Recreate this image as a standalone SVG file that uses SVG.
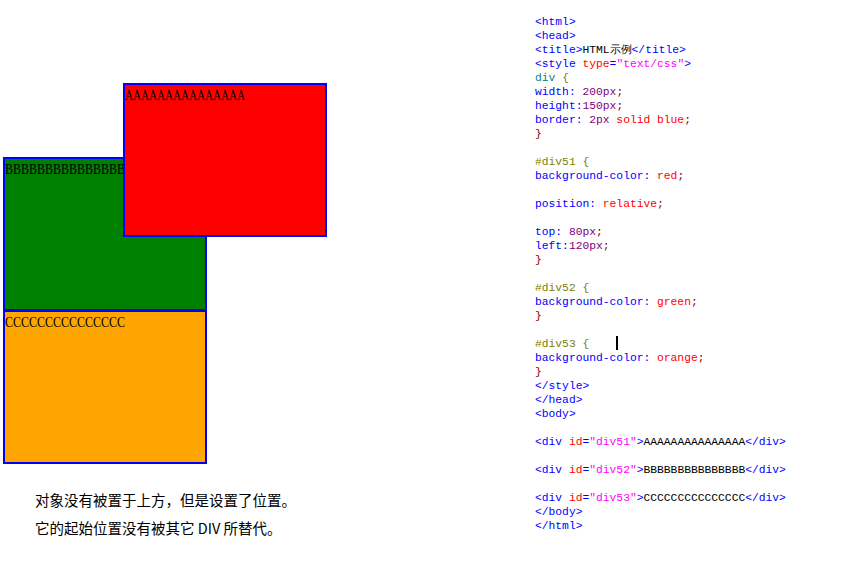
<svg xmlns="http://www.w3.org/2000/svg" width="842" height="577" viewBox="0 0 842 577">
<style>
.box{stroke:#0000ff;stroke-width:2}
.lbl{font-family:"Liberation Serif",serif;font-size:15px;fill:#000}
.code{font-family:"Liberation Mono",monospace;font-size:11.3px}
.t{fill:#0000ff}.an{fill:#ff0000}.av{fill:#ff00ff}.sel{fill:#008080}.id{fill:#808000}
.p{fill:#0000ff}.n{fill:#800080}.k{fill:#ff0000}.b{fill:#800000}.x{fill:#000}
.cn{font-family:"Noto Sans CJK SC",sans-serif;font-size:14.5px;fill:#000}
</style>
<rect width="842" height="577" fill="#fff"/>
<g id="div52"><rect class="box" x="4" y="158" width="202" height="152" fill="#008000"/><text class="lbl" x="5" y="174" textLength="120" lengthAdjust="spacingAndGlyphs">BBBBBBBBBBBBBBB</text></g>
<g id="div53"><rect class="box" x="4" y="311" width="202" height="152" fill="#ffa500"/><text class="lbl" x="5" y="327" textLength="120" lengthAdjust="spacingAndGlyphs">CCCCCCCCCCCCCCC</text></g>
<g id="div51"><rect class="box" x="124" y="84" width="202" height="152" fill="#ff0000"/><text class="lbl" x="125" y="100" textLength="120" lengthAdjust="spacingAndGlyphs">AAAAAAAAAAAAAAA</text></g>
<g id="caption">
<text class="cn" x="35" y="506">对象没有被置于上方，但是设置了位置。</text>
<text class="cn" x="35" y="534">它的起始位置没有被其它 DIV 所替代。</text>
</g>
<g id="code" class="code" xml:space="preserve">
<text x="535" y="25"><tspan class="t">&lt;html&gt;</tspan></text>
<text x="535" y="39"><tspan class="t"> &lt;head&gt;</tspan></text>
<text x="535" y="53"><tspan class="t">  &lt;title&gt;</tspan><tspan class="x">HTML示例</tspan><tspan class="t">&lt;/title&gt;</tspan></text>
<text x="535" y="67"><tspan class="t">  &lt;style </tspan><tspan class="an">type</tspan><tspan class="t">=</tspan><tspan class="av">"text/css"</tspan><tspan class="t">&gt;</tspan></text>
<text x="535" y="81"><tspan class="sel">    div </tspan><tspan class="id">{</tspan></text>
<text x="535" y="95"><tspan class="p">        width: </tspan><tspan class="n">200px</tspan><tspan class="b">;</tspan></text>
<text x="535" y="109"><tspan class="p">        height:</tspan><tspan class="n">150px</tspan><tspan class="b">;</tspan></text>
<text x="535" y="123"><tspan class="p">        border: </tspan><tspan class="n">2px </tspan><tspan class="k">solid blue</tspan><tspan class="b">;</tspan></text>
<text x="535" y="137"><tspan class="b">    }</tspan></text>
<text x="535" y="165"><tspan class="id">    #div51 {</tspan></text>
<text x="535" y="179"><tspan class="p">        background-color: </tspan><tspan class="k">red</tspan><tspan class="b">;</tspan></text>
<text x="535" y="207"><tspan class="p">        position: </tspan><tspan class="k">relative</tspan><tspan class="b">;</tspan></text>
<text x="535" y="235"><tspan class="p">        top: </tspan><tspan class="n">80px</tspan><tspan class="b">;</tspan></text>
<text x="535" y="249"><tspan class="p">        left:</tspan><tspan class="n">120px</tspan><tspan class="b">;</tspan></text>
<text x="535" y="263"><tspan class="b">    }</tspan></text>
<text x="535" y="291"><tspan class="id">    #div52 {</tspan></text>
<text x="535" y="305"><tspan class="p">        background-color: </tspan><tspan class="k">green</tspan><tspan class="b">;</tspan></text>
<text x="535" y="319"><tspan class="b">    }</tspan></text>
<text x="535" y="347"><tspan class="id">    #div53 {</tspan></text>
<text x="535" y="361"><tspan class="p">        background-color: </tspan><tspan class="k">orange</tspan><tspan class="b">;</tspan></text>
<text x="535" y="375"><tspan class="b">    }</tspan></text>
<text x="535" y="389"><tspan class="t">  &lt;/style&gt;</tspan></text>
<text x="535" y="403"><tspan class="t"> &lt;/head&gt;</tspan></text>
<text x="535" y="417"><tspan class="t"> &lt;body&gt;</tspan></text>
<text x="535" y="445"><tspan class="t">&lt;div </tspan><tspan class="an">id</tspan><tspan class="t">=</tspan><tspan class="av">"div51"</tspan><tspan class="t">&gt;</tspan><tspan class="x">AAAAAAAAAAAAAAA</tspan><tspan class="t">&lt;/div&gt;</tspan></text>
<text x="535" y="473"><tspan class="t">&lt;div </tspan><tspan class="an">id</tspan><tspan class="t">=</tspan><tspan class="av">"div52"</tspan><tspan class="t">&gt;</tspan><tspan class="x">BBBBBBBBBBBBBBB</tspan><tspan class="t">&lt;/div&gt;</tspan></text>
<text x="535" y="501"><tspan class="t">&lt;div </tspan><tspan class="an">id</tspan><tspan class="t">=</tspan><tspan class="av">"div53"</tspan><tspan class="t">&gt;</tspan><tspan class="x">CCCCCCCCCCCCCCC</tspan><tspan class="t">&lt;/div&gt;</tspan></text>
<text x="535" y="515"><tspan class="t"> &lt;/body&gt;</tspan></text>
<text x="535" y="529"><tspan class="t">&lt;/html&gt;</tspan></text>
</g>
<rect x="616" y="336" width="2" height="14" fill="#000"/>
</svg>
